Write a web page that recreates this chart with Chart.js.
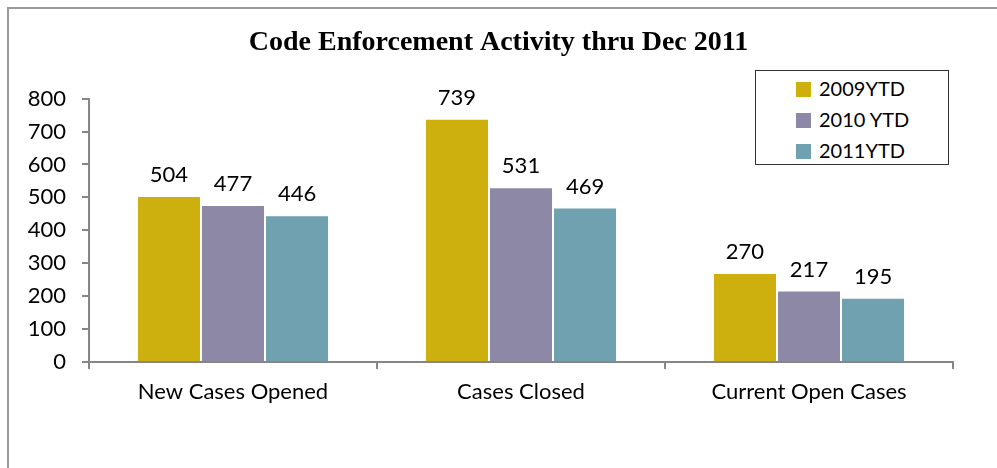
<!DOCTYPE html>
<html>
<head>
<meta charset="utf-8">
<script src="https://cdn.jsdelivr.net/npm/chart.js@4/dist/chart.umd.min.js"></script>
<style>
  body { margin: 0; background: #fff; }
  #wrap { position: relative; width: 997px; height: 468px; overflow: hidden; }
  #frame { position: absolute; left: 7px; top: 7px; width: 1000px; height: 470px;
           border-top: 2px solid #9a9a9a; border-left: 2px solid #9a9a9a; box-sizing: border-box; }
  #legend { position: absolute; left: 755px; top: 70px; width: 194px; height: 95px;
            border: 1.5px solid #333; box-sizing: border-box; background: #fff;
            font-family: Lato, sans-serif; font-size: 20px; color: #000; }
  #legend div { position: absolute; left: 40px; height: 22px; line-height: 22px; }
  #legend span { display: inline-block; width: 15px; height: 15px; margin-right: 8px; vertical-align: -1px; }
  canvas { position: absolute; left: 0; top: 0; }
</style>
</head>
<body>
<div id="wrap">
  <div id="frame"></div>
  <canvas id="chart" width="997" height="468"></canvas>
  <div id="legend"></div>
</div>
<script>
const categories = ['New Cases Opened', 'Cases Closed', 'Current Open Cases'];
const seriesNames = ['2009YTD', '2010 YTD', '2011YTD'];
const values2009 = [504, 739, 270];
const values2010 = [477, 531, 217];
const values2011 = [446, 469, 195];
const colors = ['#CDB00E', '#8C88A6', '#6FA1B0'];

const font = "Lato, sans-serif";

// value labels above each bar
const barLabels = {
  id: 'barLabels',
  afterDatasetsDraw(chart) {
    const ctx = chart.ctx;
    ctx.save();
    ctx.font = '22px ' + font;
    ctx.fillStyle = '#000';
    ctx.textAlign = 'center';
    ctx.textBaseline = 'bottom';
    chart.data.datasets.forEach((ds, i) => {
      chart.getDatasetMeta(i).data.forEach((bar, j) => {
        ctx.fillText(ds.data[j], bar.x, bar.y - 10);
      });
    });
    ctx.restore();
  }
};

const allValues = [values2009, values2010, values2011];

new Chart(document.getElementById('chart'), {
  type: 'bar',
  data: {
    labels: categories,
    datasets: seriesNames.map((name, i) => ({
      label: name,
      data: allValues[i],
      backgroundColor: colors[i],
      borderColor: 'rgba(255,255,255,0.8)',
      borderWidth: 1,
      categoryPercentage: 0.667,
      barPercentage: 1.0
    }))
  },
  options: {
    responsive: false,
    animation: false,
    layout: { padding: 0 },
    plugins: {
      legend: { display: false },
      tooltip: { enabled: false },
      title: {
        display: true,
        text: 'Code Enforcement Activity thru Dec 2011',
        color: '#000',
        font: { family: "'Liberation Serif', serif", size: 28, weight: 'bold' },
        padding: { top: 26, bottom: 39 }
      }
    },
    scales: {
      x: {
        grid: { display: true, drawOnChartArea: false, offset: true, tickLength: 7, color: '#868686', lineWidth: 2 },
        border: { color: '#868686', width: 2 },
        ticks: { color: '#000', font: { family: font, size: 22 }, padding: 10 },
        afterFit(scale) { scale.height = 106; }
      },
      y: {
        min: 0,
        max: 800,
        grid: { display: true, drawOnChartArea: false, tickLength: 7, color: '#868686', lineWidth: 2 },
        border: { color: '#868686', width: 2 },
        ticks: { stepSize: 100, color: '#000', font: { family: font, size: 22 }, padding: 16 },
        afterFit(scale) { scale.width = 89; }
      },
      // empty right-hand spacer so the plot ends where the original does
      spacer: {
        position: 'right',
        min: 0,
        max: 800,
        grid: { display: false },
        border: { display: false },
        ticks: { display: false },
        afterFit(scale) { scale.width = 44; }
      }
    }
  },
  plugins: [barLabels]
});

// legend built from the series arrays
const legend = document.getElementById('legend');
seriesNames.forEach((name, i) => {
  const row = document.createElement('div');
  row.style.top = (6 + i * 31) + 'px';
  row.innerHTML = '<span style="background:' + colors[i] + '"></span>' + name;
  legend.appendChild(row);
});
</script>
</body>
</html>
